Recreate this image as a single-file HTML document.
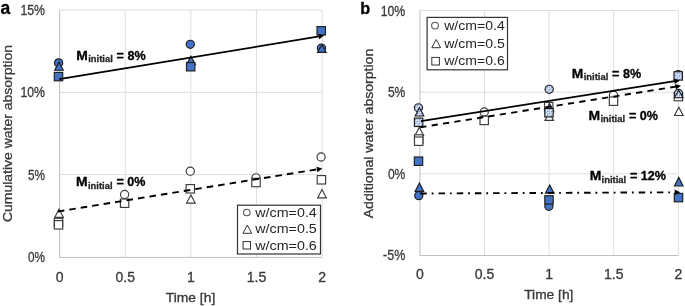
<!DOCTYPE html><html><head><meta charset="utf-8"><style>html,body{margin:0;padding:0;background:#fff;}svg{display:block;will-change:transform;}text{font-family:"Liberation Sans",sans-serif;stroke-width:0.3px;paint-order:stroke;}</style></head><body>
<svg width="685" height="306" viewBox="0 0 685 306">
<defs><pattern id="dots" width="4" height="4" patternUnits="userSpaceOnUse"><rect width="4" height="4" fill="#bccdee"/><rect x="0" y="0" width="1" height="1" fill="#f5f8fd"/><rect x="2" y="2" width="1" height="1" fill="#f5f8fd"/><rect x="1" y="1" width="1" height="1" fill="#7596d8"/><rect x="3" y="3" width="1" height="1" fill="#7596d8"/></pattern></defs>
<rect width="685" height="306" fill="#fff"/>
<line x1="125.225" y1="10" x2="125.225" y2="257.4" stroke="#dedede" stroke-width="1.0" />
<line x1="190.85" y1="10" x2="190.85" y2="257.4" stroke="#dedede" stroke-width="1.0" />
<line x1="256.475" y1="10" x2="256.475" y2="257.4" stroke="#dedede" stroke-width="1.0" />
<line x1="322.1" y1="10" x2="322.1" y2="257.4" stroke="#dedede" stroke-width="1.0" />
<line x1="59.6" y1="10.0" x2="322.1" y2="10.0" stroke="#dedede" stroke-width="1.0" />
<line x1="59.6" y1="92.4" x2="322.1" y2="92.4" stroke="#dedede" stroke-width="1.0" />
<line x1="59.6" y1="174.6" x2="322.1" y2="174.6" stroke="#dedede" stroke-width="1.0" />
<line x1="59.6" y1="10" x2="59.6" y2="257.4" stroke="#bfbfbf" stroke-width="1.0" />
<line x1="59.6" y1="257.4" x2="322.1" y2="257.4" stroke="#bfbfbf" stroke-width="1.0" />
<text x="45" y="15.0" font-size="14" text-anchor="end" font-weight="normal" fill="#383838" stroke="#383838" textLength="24.6" lengthAdjust="spacingAndGlyphs" >15%</text>
<text x="45" y="97.4" font-size="14" text-anchor="end" font-weight="normal" fill="#383838" stroke="#383838" textLength="24.6" lengthAdjust="spacingAndGlyphs" >10%</text>
<text x="45" y="179.6" font-size="14" text-anchor="end" font-weight="normal" fill="#383838" stroke="#383838" textLength="17" lengthAdjust="spacingAndGlyphs" >5%</text>
<text x="45" y="262.4" font-size="14" text-anchor="end" font-weight="normal" fill="#383838" stroke="#383838" textLength="17" lengthAdjust="spacingAndGlyphs" >0%</text>
<text x="59.6" y="282" font-size="14" text-anchor="middle" font-weight="normal" fill="#383838" stroke="#383838" >0</text>
<text x="125.225" y="282" font-size="14" text-anchor="middle" font-weight="normal" fill="#383838" stroke="#383838" >0.5</text>
<text x="190.85" y="282" font-size="14" text-anchor="middle" font-weight="normal" fill="#383838" stroke="#383838" >1</text>
<text x="256.475" y="282" font-size="14" text-anchor="middle" font-weight="normal" fill="#383838" stroke="#383838" >1.5</text>
<text x="322.1" y="282" font-size="14" text-anchor="middle" font-weight="normal" fill="#383838" stroke="#383838" >2</text>
<text x="190.5" y="301.8" font-size="12.6" text-anchor="middle" font-weight="normal" fill="#383838" stroke="#383838" textLength="49.5" lengthAdjust="spacingAndGlyphs" >Time [h]</text>
<text x="0" y="0" font-size="12.8" fill="#383838" stroke="#383838" transform="translate(12.3,222) rotate(-90)" textLength="177" lengthAdjust="spacingAndGlyphs">Cumulative water absorption</text>
<text x="0.4" y="13.6" font-size="17.5" text-anchor="start" font-weight="bold" fill="#000" stroke="#000" >a</text>
<rect x="237.5" y="205.2" width="83" height="48.8" fill="#fff" stroke="#333" stroke-width="1.2"/>
<circle cx="246.8" cy="212.5" r="3.3" fill="#fff" stroke="#555" stroke-width="1.1"/>
<polygon points="247.30,225.10 251.70,233.30 242.90,233.30" fill="#fff" stroke="#333" stroke-width="1.0" stroke-linejoin="miter"/>
<rect x="243.10" y="241.60" width="7.4" height="7.4" fill="#fff" stroke="#333" stroke-width="1.0"/>
<text x="255.3" y="217.0" font-size="12.2" text-anchor="start" font-weight="normal" fill="#262626" stroke="#262626" textLength="61.5" lengthAdjust="spacingAndGlyphs" style="stroke:none">w/cm=0.4</text>
<text x="255.3" y="233.4" font-size="12.2" text-anchor="start" font-weight="normal" fill="#262626" stroke="#262626" textLength="61.5" lengthAdjust="spacingAndGlyphs" style="stroke:none">w/cm=0.5</text>
<text x="255.3" y="249.8" font-size="12.2" text-anchor="start" font-weight="normal" fill="#262626" stroke="#262626" textLength="61.5" lengthAdjust="spacingAndGlyphs" style="stroke:none">w/cm=0.6</text>
<polygon points="59.10,209.10 63.40,217.30 54.80,217.30" fill="#fff" stroke="#3a3a3a" stroke-width="1.15" stroke-linejoin="miter"/>
<rect x="54.30" y="218.30" width="8.4" height="8.4" fill="#fff" stroke="#3a3a3a" stroke-width="1.15"/>
<rect x="54.30" y="220.60" width="8.4" height="8.4" fill="#fff" stroke="#3a3a3a" stroke-width="1.15"/>
<circle cx="124.6" cy="194.5" r="4.1" fill="#fff" stroke="#3a3a3a" stroke-width="1.15"/>
<rect x="120.40" y="199.00" width="8.4" height="8.4" fill="#fff" stroke="#3a3a3a" stroke-width="1.15"/>
<circle cx="190.3" cy="171.2" r="4.1" fill="#fff" stroke="#3a3a3a" stroke-width="1.15"/>
<rect x="186.10" y="184.60" width="8.4" height="8.4" fill="#fff" stroke="#3a3a3a" stroke-width="1.15"/>
<polygon points="190.90,194.90 195.20,203.10 186.60,203.10" fill="#fff" stroke="#3a3a3a" stroke-width="1.15" stroke-linejoin="miter"/>
<circle cx="256.0" cy="177.8" r="4.1" fill="#fff" stroke="#3a3a3a" stroke-width="1.15"/>
<rect x="251.80" y="178.30" width="8.4" height="8.4" fill="#fff" stroke="#3a3a3a" stroke-width="1.15"/>
<circle cx="321.1" cy="157.0" r="4.1" fill="#fff" stroke="#3a3a3a" stroke-width="1.15"/>
<rect x="317.20" y="175.60" width="8.4" height="8.4" fill="#fff" stroke="#3a3a3a" stroke-width="1.15"/>
<polygon points="322.00,189.60 326.30,197.80 317.70,197.80" fill="#fff" stroke="#3a3a3a" stroke-width="1.15" stroke-linejoin="miter"/>
<circle cx="58.6" cy="62.9" r="4.1" fill="#4472C4" stroke="#1c1c1c" stroke-width="1.15"/>
<polygon points="59.00,62.00 63.30,70.20 54.70,70.20" fill="#4472C4" stroke="#1c1c1c" stroke-width="1.15" stroke-linejoin="miter"/>
<rect x="54.30" y="72.40" width="8.4" height="8.4" fill="#4472C4" stroke="#1c1c1c" stroke-width="1.15"/>
<circle cx="190.3" cy="44.3" r="4.1" fill="#4472C4" stroke="#1c1c1c" stroke-width="1.15"/>
<polygon points="191.00,56.30 195.30,64.50 186.70,64.50" fill="#4472C4" stroke="#1c1c1c" stroke-width="1.15" stroke-linejoin="miter"/>
<rect x="186.50" y="62.50" width="8.4" height="8.4" fill="#4472C4" stroke="#1c1c1c" stroke-width="1.15"/>
<circle cx="321.5" cy="48.1" r="4.1" fill="#4472C4" stroke="#1c1c1c" stroke-width="1.15"/>
<polygon points="321.80,44.60 326.10,52.40 317.50,52.40" fill="#4472C4" stroke="#1c1c1c" stroke-width="1.15" stroke-linejoin="miter"/>
<rect x="317.00" y="26.60" width="8.4" height="8.4" fill="#4472C4" stroke="#1c1c1c" stroke-width="1.15"/>
<line x1="59.2" y1="79.1" x2="319.17" y2="36.43" stroke="#000" stroke-width="1.7" />
<polygon points="324.20,35.60 319.13,39.27 318.22,33.74" fill="#000"/>
<line x1="57.8" y1="211.5" x2="317.37" y2="169.32" stroke="#000" stroke-width="1.9" stroke-dasharray="6.6 5"/>
<polygon points="322.40,168.50 317.32,172.16 316.42,166.63" fill="#000"/>
<text x="76.3" y="59.7" font-size="12.8" font-weight="bold" fill="#000" stroke="#000" textLength="11.6" lengthAdjust="spacingAndGlyphs">M</text>
<text x="88.19999999999999" y="62.300000000000004" font-size="9.8" font-weight="bold" fill="#262626" stroke="#262626" textLength="24.6" lengthAdjust="spacingAndGlyphs">initial</text>
<text x="116.6" y="59.7" font-size="12.6" font-weight="bold" fill="#000" stroke="#000">= 8%</text>
<text x="76.10000000000001" y="186.0" font-size="12.8" font-weight="bold" fill="#000" stroke="#000" textLength="11.6" lengthAdjust="spacingAndGlyphs">M</text>
<text x="88.0" y="188.6" font-size="9.8" font-weight="bold" fill="#262626" stroke="#262626" textLength="24.6" lengthAdjust="spacingAndGlyphs">initial</text>
<text x="116.4" y="186.0" font-size="12.6" font-weight="bold" fill="#000" stroke="#000">= 0%</text>
<line x1="484.5" y1="10.5" x2="484.5" y2="255.5" stroke="#dedede" stroke-width="1.0" />
<line x1="549.0999999999999" y1="10.5" x2="549.0999999999999" y2="255.5" stroke="#dedede" stroke-width="1.0" />
<line x1="613.6999999999999" y1="10.5" x2="613.6999999999999" y2="255.5" stroke="#dedede" stroke-width="1.0" />
<line x1="678.3" y1="10.5" x2="678.3" y2="255.5" stroke="#dedede" stroke-width="1.0" />
<line x1="419.9" y1="10.5" x2="678.3" y2="10.5" stroke="#dedede" stroke-width="1.0" />
<line x1="419.9" y1="92.2" x2="678.3" y2="92.2" stroke="#dedede" stroke-width="1.0" />
<line x1="419.9" y1="173.8" x2="678.3" y2="173.8" stroke="#dedede" stroke-width="1.0" />
<line x1="419.9" y1="10.5" x2="419.9" y2="255.5" stroke="#bfbfbf" stroke-width="1.0" />
<line x1="419.9" y1="255.5" x2="678.3" y2="255.5" stroke="#bfbfbf" stroke-width="1.0" />
<text x="405.3" y="15.5" font-size="14" text-anchor="end" font-weight="normal" fill="#383838" stroke="#383838" textLength="24.6" lengthAdjust="spacingAndGlyphs" >10%</text>
<text x="405.3" y="97.2" font-size="14" text-anchor="end" font-weight="normal" fill="#383838" stroke="#383838" textLength="17.4" lengthAdjust="spacingAndGlyphs" >5%</text>
<text x="405.3" y="178.8" font-size="14" text-anchor="end" font-weight="normal" fill="#383838" stroke="#383838" textLength="17.4" lengthAdjust="spacingAndGlyphs" >0%</text>
<text x="405.3" y="259.5" font-size="14" text-anchor="end" font-weight="normal" fill="#383838" stroke="#383838" textLength="22.2" lengthAdjust="spacingAndGlyphs" >-5%</text>
<text x="419.9" y="279.2" font-size="14" text-anchor="middle" font-weight="normal" fill="#383838" stroke="#383838" >0</text>
<text x="484.5" y="279.2" font-size="14" text-anchor="middle" font-weight="normal" fill="#383838" stroke="#383838" >0.5</text>
<text x="549.0999999999999" y="279.2" font-size="14" text-anchor="middle" font-weight="normal" fill="#383838" stroke="#383838" >1</text>
<text x="613.6999999999999" y="279.2" font-size="14" text-anchor="middle" font-weight="normal" fill="#383838" stroke="#383838" >1.5</text>
<text x="678.3" y="279.2" font-size="14" text-anchor="middle" font-weight="normal" fill="#383838" stroke="#383838" >2</text>
<text x="548.8" y="299.3" font-size="12.6" text-anchor="middle" font-weight="normal" fill="#383838" stroke="#383838" textLength="49.2" lengthAdjust="spacingAndGlyphs" >Time [h]</text>
<text x="0" y="0" font-size="12.8" fill="#383838" stroke="#383838" transform="translate(372.7,218.3) rotate(-90)" textLength="169.5" lengthAdjust="spacingAndGlyphs">Additional water absorption</text>
<text x="360.2" y="13.6" font-size="16.3" text-anchor="start" font-weight="bold" fill="#000" stroke="#000" >b</text>
<rect x="427.1" y="17.4" width="80.4" height="52.4" fill="#fff" stroke="#333" stroke-width="1.2"/>
<circle cx="435.0" cy="25.6" r="3.4" fill="#fff" stroke="#555" stroke-width="1.1"/>
<polygon points="436.20,39.50 440.60,47.70 431.80,47.70" fill="#fff" stroke="#333" stroke-width="1.0" stroke-linejoin="miter"/>
<rect x="431.80" y="57.40" width="7.6" height="7.6" fill="#fff" stroke="#333" stroke-width="1.0"/>
<text x="444.2" y="30.2" font-size="12.4" text-anchor="start" font-weight="normal" fill="#262626" stroke="#262626" textLength="60.6" lengthAdjust="spacingAndGlyphs" style="stroke:none">w/cm=0.4</text>
<text x="444.2" y="47.8" font-size="12.4" text-anchor="start" font-weight="normal" fill="#262626" stroke="#262626" textLength="60.6" lengthAdjust="spacingAndGlyphs" style="stroke:none">w/cm=0.5</text>
<text x="444.2" y="65.4" font-size="12.4" text-anchor="start" font-weight="normal" fill="#262626" stroke="#262626" textLength="60.6" lengthAdjust="spacingAndGlyphs" style="stroke:none">w/cm=0.6</text>
<polygon points="419.30,127.30 423.60,135.50 415.00,135.50" fill="#fff" stroke="#3a3a3a" stroke-width="1.15" stroke-linejoin="miter"/>
<rect x="414.50" y="134.80" width="8.4" height="8.4" fill="#fff" stroke="#3a3a3a" stroke-width="1.15"/>
<rect x="414.50" y="137.00" width="8.4" height="8.4" fill="#fff" stroke="#3a3a3a" stroke-width="1.15"/>
<circle cx="484.2" cy="112.0" r="4.1" fill="#fff" stroke="#3a3a3a" stroke-width="1.15"/>
<rect x="480.00" y="116.20" width="8.4" height="8.4" fill="#fff" stroke="#3a3a3a" stroke-width="1.15"/>
<rect x="544.50" y="102.40" width="8.4" height="8.4" fill="#fff" stroke="#3a3a3a" stroke-width="1.15"/>
<polygon points="549.30,112.20 553.60,120.40 545.00,120.40" fill="#fff" stroke="#3a3a3a" stroke-width="1.15" stroke-linejoin="miter"/>
<circle cx="613.5" cy="95.2" r="4.1" fill="#fff" stroke="#3a3a3a" stroke-width="1.15"/>
<rect x="609.30" y="97.00" width="8.4" height="8.4" fill="#fff" stroke="#3a3a3a" stroke-width="1.15"/>
<rect x="674.20" y="92.40" width="8.4" height="8.4" fill="#fff" stroke="#3a3a3a" stroke-width="1.15"/>
<polygon points="678.80,107.30 683.10,115.50 674.50,115.50" fill="#fff" stroke="#3a3a3a" stroke-width="1.15" stroke-linejoin="miter"/>
<circle cx="418.4" cy="107.8" r="4.1" fill="url(#dots)" stroke="#1c1c1c" stroke-width="1.15"/>
<polygon points="419.50,107.80 423.80,116.00 415.20,116.00" fill="url(#dots)" stroke="#1c1c1c" stroke-width="1.15" stroke-linejoin="miter"/>
<rect x="414.40" y="118.10" width="8.4" height="8.4" fill="url(#dots)" stroke="#1c1c1c" stroke-width="1.15"/>
<circle cx="549.2" cy="89.3" r="4.1" fill="url(#dots)" stroke="#1c1c1c" stroke-width="1.15"/>
<polygon points="549.50,103.40 553.80,111.60 545.20,111.60" fill="url(#dots)" stroke="#1c1c1c" stroke-width="1.15" stroke-linejoin="miter"/>
<rect x="544.80" y="108.50" width="8.4" height="8.4" fill="url(#dots)" stroke="#1c1c1c" stroke-width="1.15"/>
<circle cx="678.3" cy="74.6" r="4.1" fill="url(#dots)" stroke="#1c1c1c" stroke-width="1.15"/>
<rect x="674.00" y="71.70" width="8.4" height="8.4" fill="url(#dots)" stroke="#1c1c1c" stroke-width="1.15"/>
<circle cx="678.5" cy="93.5" r="4.1" fill="url(#dots)" stroke="#1c1c1c" stroke-width="1.15"/>
<polygon points="678.70,90.30 683.00,97.70 674.40,97.70" fill="url(#dots)" stroke="#1c1c1c" stroke-width="1.15" stroke-linejoin="miter"/>
<rect x="414.30" y="157.00" width="8.4" height="8.4" fill="#4472C4" stroke="#1c1c1c" stroke-width="1.15"/>
<polygon points="419.40,183.10 423.70,191.30 415.10,191.30" fill="#4472C4" stroke="#1c1c1c" stroke-width="1.15" stroke-linejoin="miter"/>
<circle cx="418.8" cy="195.6" r="4.1" fill="#4472C4" stroke="#1c1c1c" stroke-width="1.15"/>
<circle cx="548.9" cy="206.3" r="4.1" fill="#4472C4" stroke="#1c1c1c" stroke-width="1.15"/>
<polygon points="549.70,184.90 554.00,193.10 545.40,193.10" fill="#4472C4" stroke="#1c1c1c" stroke-width="1.15" stroke-linejoin="miter"/>
<rect x="544.80" y="195.70" width="8.4" height="8.4" fill="#4472C4" stroke="#1c1c1c" stroke-width="1.15"/>
<polygon points="678.80,177.40 683.10,186.00 674.50,186.00" fill="#4472C4" stroke="#1c1c1c" stroke-width="1.15" stroke-linejoin="miter"/>
<rect x="674.30" y="193.40" width="8.4" height="8.4" fill="#4472C4" stroke="#1c1c1c" stroke-width="1.15"/>
<line x1="420.9" y1="121.2" x2="674.76" y2="81.19" stroke="#000" stroke-width="1.7" />
<polygon points="679.80,80.40 674.70,84.04 673.83,78.51" fill="#000"/>
<line x1="420.3" y1="127.3" x2="675.96" y2="86.60" stroke="#000" stroke-width="1.9" stroke-dasharray="6.2 5.3"/>
<polygon points="681.00,85.80 675.91,89.45 675.03,83.92" fill="#000"/>
<line x1="420.3" y1="193.5" x2="675.10" y2="192.32" stroke="#000" stroke-width="1.9" stroke-dasharray="6.5 4.9 1.8 5"/>
<polygon points="680.20,192.30 674.61,195.13 674.59,189.53" fill="#000"/>
<text x="571.8000000000001" y="77.7" font-size="12.8" font-weight="bold" fill="#000" stroke="#000" textLength="11.6" lengthAdjust="spacingAndGlyphs">M</text>
<text x="583.7" y="80.3" font-size="9.8" font-weight="bold" fill="#262626" stroke="#262626" textLength="24.6" lengthAdjust="spacingAndGlyphs">initial</text>
<text x="612.1" y="77.7" font-size="12.6" font-weight="bold" fill="#000" stroke="#000">= 8%</text>
<text x="588.6" y="119.7" font-size="12.8" font-weight="bold" fill="#000" stroke="#000" textLength="11.6" lengthAdjust="spacingAndGlyphs">M</text>
<text x="600.5" y="122.3" font-size="9.8" font-weight="bold" fill="#262626" stroke="#262626" textLength="24.6" lengthAdjust="spacingAndGlyphs">initial</text>
<text x="628.9" y="119.7" font-size="12.6" font-weight="bold" fill="#000" stroke="#000">= 0%</text>
<text x="589.7" y="179.9" font-size="12.8" font-weight="bold" fill="#000" stroke="#000" textLength="11.6" lengthAdjust="spacingAndGlyphs">M</text>
<text x="601.6" y="182.5" font-size="9.8" font-weight="bold" fill="#262626" stroke="#262626" textLength="24.6" lengthAdjust="spacingAndGlyphs">initial</text>
<text x="630.0" y="179.9" font-size="12.6" font-weight="bold" fill="#000" stroke="#000">= 12%</text>
</svg></body></html>
